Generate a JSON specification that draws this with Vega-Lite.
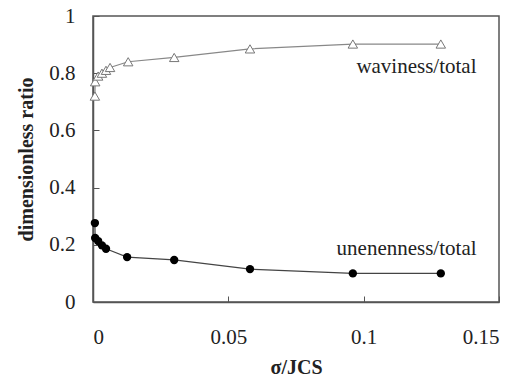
{
  "$schema": "https://vega.github.io/schema/vega-lite/v6.json",
  "autosize": {"type": "none"},
  "width": 406,
  "height": 286,
  "padding": {"left": 93, "top": 16, "right": 21, "bottom": 79},
  "background": "white",
  "config": {
    "view": {"stroke": "#555", "strokeWidth": 1.5},
    "axis": {
      "grid": false,
      "domainColor": "#555",
      "domainWidth": 1.5,
      "tickColor": "#555",
      "tickSize": 6,
      "tickOffset": 0,
      "labelFont": "Liberation Serif",
      "labelFontSize": 21,
      "labelColor": "#222",
      "titleFont": "Liberation Serif",
      "titleFontSize": 20,
      "titleFontWeight": "bold",
      "titleColor": "#222"
    }
  },
  "datasets": {
    "wav": [
      {"x": 0.0007, "y": 0.72},
      {"x": 0.0008, "y": 0.77},
      {"x": 0.0019, "y": 0.79},
      {"x": 0.0033, "y": 0.80},
      {"x": 0.0048, "y": 0.81},
      {"x": 0.0063, "y": 0.82},
      {"x": 0.0130, "y": 0.84},
      {"x": 0.0300, "y": 0.855},
      {"x": 0.0580, "y": 0.885},
      {"x": 0.0960, "y": 0.902},
      {"x": 0.1285, "y": 0.902}
    ],
    "une": [
      {"x": 0.0007, "y": 0.276},
      {"x": 0.0008, "y": 0.224},
      {"x": 0.0019, "y": 0.213},
      {"x": 0.0033, "y": 0.198},
      {"x": 0.0048, "y": 0.186},
      {"x": 0.0126, "y": 0.157},
      {"x": 0.0300, "y": 0.147},
      {"x": 0.0580, "y": 0.115},
      {"x": 0.0960, "y": 0.100},
      {"x": 0.1285, "y": 0.100}
    ],
    "labels": [
      {"x": 0.1417, "y": 0.82, "text": "waviness/total"},
      {"x": 0.1417, "y": 0.185, "text": "unenenness/total"}
    ]
  },
  "layer": [
    {
      "data": {"name": "wav"},
      "mark": {"type": "line", "color": "#888", "strokeWidth": 1.2},
      "encoding": {
        "x": {"field": "x", "type": "quantitative", "scale": {"domain": [0, 0.15], "nice": false},
              "axis": {"values": [0, 0.05, 0.1, 0.15], "title": "σ/JCS", "tickSize": -6, "labelPadding": 30, "titlePadding": 10, "format": "~g"}},
        "y": {"field": "y", "type": "quantitative", "scale": {"domain": [0, 1], "nice": false},
              "axis": {"values": [0, 0.2, 0.4, 0.6, 0.8, 1], "title": "dimensionless ratio", "tickSize": -6, "labelPadding": 24, "titlePadding": 12, "format": "~g"}}
      }
    },
    {
      "data": {"name": "wav"},
      "mark": {"type": "point", "shape": "triangle-up", "filled": true, "fill": "white", "stroke": "#777", "strokeWidth": 1, "size": 90, "opacity": 1},
      "encoding": {
        "x": {"field": "x", "type": "quantitative"},
        "y": {"field": "y", "type": "quantitative"}
      }
    },
    {
      "data": {"name": "une"},
      "mark": {"type": "line", "color": "#444", "strokeWidth": 1.2},
      "encoding": {
        "x": {"field": "x", "type": "quantitative"},
        "y": {"field": "y", "type": "quantitative"}
      }
    },
    {
      "data": {"name": "une"},
      "mark": {"type": "point", "shape": "circle", "filled": true, "color": "black", "size": 70, "opacity": 1},
      "encoding": {
        "x": {"field": "x", "type": "quantitative"},
        "y": {"field": "y", "type": "quantitative"}
      }
    },
    {
      "data": {"name": "labels"},
      "mark": {"type": "text", "align": "right", "baseline": "middle", "font": "Liberation Serif", "fontSize": 21, "color": "#222"},
      "encoding": {
        "x": {"field": "x", "type": "quantitative"},
        "y": {"field": "y", "type": "quantitative"},
        "text": {"field": "text"}
      }
    }
  ]
}
